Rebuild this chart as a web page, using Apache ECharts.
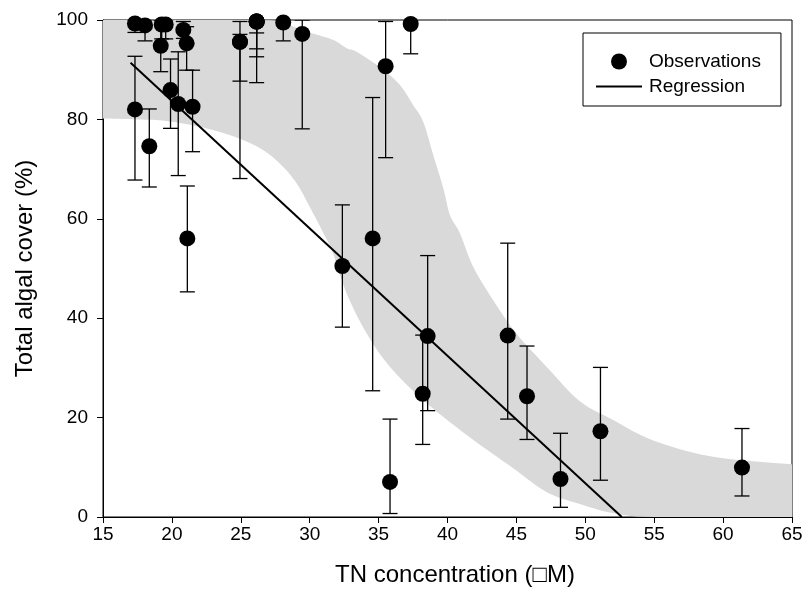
<!DOCTYPE html>
<html>
<head>
<meta charset="utf-8">
<script src="https://cdn.jsdelivr.net/npm/echarts@6/dist/echarts.min.js"></script>
<style>html,body{margin:0;padding:0;background:#fff;}#c{width:807px;height:592px;}</style>
</head>
<body>
<div id="c"></div>
<script>
// Observations (TN concentration, total algal cover) with error bar limits
var obsX    = [17.32, 18.05, 19.26, 19.55, 20.83, 19.19, 21.07, 19.90, 20.46, 17.32, 18.36, 21.50, 21.12, 24.94, 24.94, 26.15, 26.15, 26.15, 26.15, 28.08, 29.46, 32.37, 34.57, 35.51, 37.33, 35.83, 38.20, 38.56, 44.37, 45.77, 48.20, 51.10, 61.37];
var obsY    = [99.3, 98.9, 99.1, 99.1, 98.0, 94.8, 95.3, 85.9, 83.1, 82.0, 74.6, 82.55, 56.05, 95.6, 95.6, 99.7, 99.7, 99.7, 99.7, 99.5, 97.2, 50.5, 56.05, 90.7, 99.2, 7.05, 24.8, 36.4, 36.5, 24.3, 7.65, 17.25, 9.94];
var errLow  = [97.5, 95.8, 96.2, 96.2, 96.3, 89.6, 89.9, 78.2, 68.7, 67.8, 66.4, 73.5, 45.3, 68.1, 87.7, 97.4, 94.2, 92.6, 87.4, 95.8, 78.1, 38.2, 25.4, 72.3, 93.2, 0.7, 14.6, 21.4, 19.7, 15.6, 1.95, 7.4, 4.23];
var errHigh = [100, 100, 100, 100, 99.7, 100, 98.65, 92.15, 93.6, 92.7, 82.1, 89.9, 66.6, 99.7, 97.1, 100, 100, 100, 100, 100, 100, 62.8, 84.4, 99.7, 100, 19.7, 36.6, 52.6, 55.1, 34.4, 16.85, 30.1, 17.8];

// Regression line end points
var regX = [17.0, 52.65];
var regY = [91.4, 0];

// Shaded band limits
var upperX = [15, 26, 27.8, 29.3, 30.2, 31.7, 32.7, 33.4, 35.2, 36.55, 37.5, 38.24, 38.97, 39.7, 40.18, 40.9, 41.87, 43.32, 45.0, 47.2, 49.6, 52.03, 54.93, 59.29, 65];
var upperY = [100, 100, 99.5, 98.2, 97.3, 96.0, 94.3, 93.6, 90.3, 86.9, 82.9, 79.5, 72.8, 66.1, 60.7, 57.1, 50.3, 43.6, 36.9, 30.2, 23.3, 19.5, 15.4, 12.1, 10.6];
var lowerX = [15, 17.5, 19.6, 22.04, 24.46, 26.4, 27.84, 29.06, 30.0, 31.0, 31.7, 32.68, 34.14, 35.83, 38.24, 41.39, 44.77, 47.2, 49.6, 52.0, 55, 65];
var lowerY = [80.2, 80.0, 79.7, 78.5, 76.6, 74.2, 71.1, 67.1, 62.4, 57.1, 53.0, 45.0, 36.9, 30.2, 23.5, 16.5, 9.8, 5.0, 2.6, 0.8, 0, 0];

var FONT = "'Liberation Sans', Arial, sans-serif";

var obsData = obsX.map(function (x, i) { return [x, obsY[i]]; });
var errData = obsX.map(function (x, i) { return [x, errLow[i], errHigh[i]]; });
var regData = regX.map(function (x, i) { return [x, regY[i]]; });

// Catmull-Rom smoothing of a pixel polyline
function smoothPts(p) {
  var out = [], n = p.length, steps = 8;
  for (var i = 0; i < n - 1; i++) {
    var p0 = p[Math.max(0, i - 1)], p1 = p[i], p2 = p[i + 1], p3 = p[Math.min(n - 1, i + 2)];
    for (var s = 0; s < steps; s++) {
      var t = s / steps, t2 = t * t, t3 = t2 * t;
      var x = 0.5 * ((2 * p1[0]) + (-p0[0] + p2[0]) * t + (2 * p0[0] - 5 * p1[0] + 4 * p2[0] - p3[0]) * t2 + (-p0[0] + 3 * p1[0] - 3 * p2[0] + p3[0]) * t3);
      var y = 0.5 * ((2 * p1[1]) + (-p0[1] + p2[1]) * t + (2 * p0[1] - 5 * p1[1] + 4 * p2[1] - p3[1]) * t2 + (-p0[1] + 3 * p1[1] - 3 * p2[1] + p3[1]) * t3);
      out.push([x, y]);
    }
  }
  out.push(p[n - 1]);
  return out;
}

var chart = echarts.init(document.getElementById('c'), null, { renderer: 'canvas' });
chart.setOption({
  animation: false,
  backgroundColor: '#fff',
  textStyle: { fontFamily: FONT },
  grid: { left: 103, right: 15, top: 20, bottom: 75, show: true, borderColor: '#000', borderWidth: 1, backgroundColor: 'transparent' },
  legend: {
    left: 583, top: 33, orient: 'vertical',
    itemWidth: 46, itemHeight: 16, itemGap: 6,
    padding: [19, 20, 10, 13],
    borderColor: '#000', borderWidth: 1, backgroundColor: '#fff',
    textStyle: { fontSize: 19, color: '#000', fontFamily: FONT, padding: [0, 0, 0, 2] },
    data: [
      { name: 'Observations', icon: 'circle' },
      { name: 'Regression', icon: 'path://M0,0 L46,0 L46,2 L0,2 Z' }
    ]
  },
  xAxis: {
    type: 'value', min: 15, max: 65, interval: 5,
    name: 'TN concentration (\u25A1M)', nameLocation: 'middle', nameGap: 46,
    nameTextStyle: { fontSize: 24, color: '#000', fontFamily: FONT, padding: [0, 0, 0, 15] },
    axisLine: { show: true, onZero: false, lineStyle: { color: '#000', width: 1 } },
    axisTick: { show: true, inside: false, length: 6, lineStyle: { color: '#000' } },
    axisLabel: { fontSize: 19, color: '#000', margin: 8, fontFamily: FONT },
    splitLine: { show: false }
  },
  yAxis: {
    type: 'value', min: 0, max: 100, interval: 20,
    name: 'Total algal cover (%)', nameLocation: 'middle', nameGap: 66, nameRotate: 90,
    nameTextStyle: { fontSize: 24, color: '#000', fontFamily: FONT },
    axisLine: { show: true, onZero: false, lineStyle: { color: '#000', width: 1 } },
    axisTick: { show: true, inside: false, length: 6, lineStyle: { color: '#000' } },
    axisLabel: { fontSize: 19, color: '#000', margin: 15, fontFamily: FONT },
    splitLine: { show: false }
  },
  series: [
    {
      type: 'custom', name: 'band', z: 1, clip: true, silent: true,
      data: [[15, 0]],
      encode: { x: 0, y: 1 },
      renderItem: function (params, api) {
        var up = upperX.map(function (x, i) { return api.coord([x, upperY[i]]); });
        var lo = lowerX.map(function (x, i) { return api.coord([x, lowerY[i]]); });
        var pts = smoothPts(up).concat(smoothPts(lo).reverse());
        return { type: 'polygon', shape: { points: pts }, style: { fill: '#d9d9d9', stroke: null } };
      }
    },
    {
      type: 'line', name: 'Regression', z: 2, data: regData,
      symbol: 'none', lineStyle: { color: '#000', width: 2 }, itemStyle: { color: '#000' }
    },
    {
      type: 'custom', name: 'errors', z: 3, clip: true, silent: true,
      data: errData,
      encode: { x: 0, y: [1, 2] },
      renderItem: function (params, api) {
        var x = api.value(0);
        var pL = api.coord([x, api.value(1)]);
        var pH = api.coord([x, api.value(2)]);
        var w = 7.5;
        var st = { stroke: '#000', lineWidth: 1.3 };
        return {
          type: 'group', children: [
            { type: 'line', shape: { x1: pL[0], y1: pL[1], x2: pH[0], y2: pH[1] }, style: st },
            { type: 'line', shape: { x1: pL[0] - w, y1: pL[1], x2: pL[0] + w, y2: pL[1] }, style: st },
            { type: 'line', shape: { x1: pH[0] - w, y1: pH[1], x2: pH[0] + w, y2: pH[1] }, style: st }
          ]
        };
      }
    },
    {
      type: 'scatter', name: 'Observations', z: 4, data: obsData,
      symbol: 'circle', symbolSize: 16, itemStyle: { color: '#000', opacity: 1 }
    }
  ]
});
</script>
</body>
</html>
